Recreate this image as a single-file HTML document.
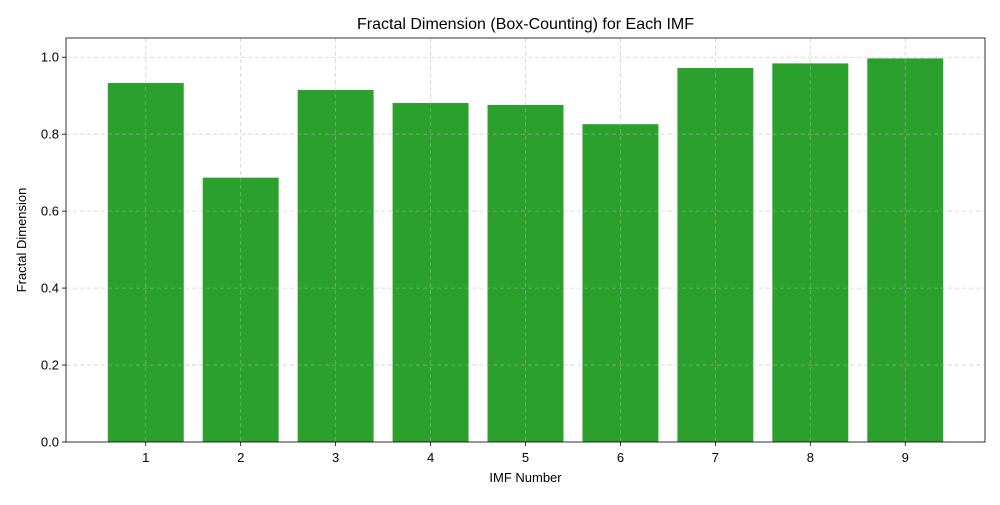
<!DOCTYPE html>
<html><head><meta charset="utf-8"><style>
body{margin:0;background:#fff;}
svg text{font-family:"Liberation Sans","DejaVu Sans",sans-serif;fill:#000;}
</style></head><body>
<svg id="chart" width="1000" height="500">
<rect width="1000" height="500" fill="#fff"/>
<g id="bars"></g><g id="grid"></g><g id="axes"></g>
</svg>
<script>
const categories=[1,2,3,4,5,6,7,8,9];
const values=[0.933,0.687,0.915,0.881,0.876,0.826,0.972,0.984,0.997];
const yTicks=[0,0.2,0.4,0.6,0.8,1.0];
const yTickLabels=["0.0","0.2","0.4","0.6","0.8","1.0"];
const L=66,R=985,T=38,B=442;
const xmin=0.16,xmax=9.84,ymin=0,ymax=1.05;
const xs=v=>L+(v-xmin)/(xmax-xmin)*(R-L);
const ys=v=>B-(v-ymin)/(ymax-ymin)*(B-T);
const NS="http://www.w3.org/2000/svg";
function mk(tag,attrs,parent){const e=document.createElementNS(NS,tag);for(const k in attrs)e.setAttribute(k,attrs[k]);parent.appendChild(e);return e;}
const gb=document.getElementById('bars'),gg=document.getElementById('grid'),ga=document.getElementById('axes');
categories.forEach((c,i)=>{
  const x0=xs(c-0.4),x1=xs(c+0.4);
  const r=mk('rect',{x:x0,y:ys(values[i]),width:x1-x0,height:ys(0)-ys(values[i]),fill:'#2ca02c'},gb);
  
  
  const gl=mk('line',{x1:xs(c),x2:xs(c),y1:T,y2:B,stroke:'#b0b0b0','stroke-dasharray':'4,3','stroke-opacity':0.6,'stroke-width':0.8},gg);
  
  
  const tk=mk('line',{x1:xs(c),x2:xs(c),y1:B,y2:B+4,stroke:'#000','stroke-width':0.8},ga);
  
  
  const t=mk('text',{x:xs(c),y:B+20,'text-anchor':'middle','font-size':13},ga);
  t.textContent=c;
  
  
});
yTicks.forEach((v,i)=>{
  const gl=mk('line',{x1:L,x2:R,y1:ys(v),y2:ys(v),stroke:'#b0b0b0','stroke-dasharray':'4,3','stroke-opacity':0.6,'stroke-width':0.8},gg);
  
  
  const tk=mk('line',{x1:L-4,x2:L,y1:ys(v),y2:ys(v),stroke:'#000','stroke-width':0.8},ga);
  
  
  const t=mk('text',{x:L-7,y:ys(v)+4.5,'text-anchor':'end','font-size':13},ga);
  t.textContent=yTickLabels[i];
  
  
});
const fr=mk('rect',{x:L,y:T,width:R-L,height:B-T,fill:'none',stroke:'#000','stroke-width':0.8},ga);


const ti=mk('text',{x:(L+R)/2,y:29,'text-anchor':'middle','font-size':16},ga);
ti.textContent='Fractal Dimension (Box-Counting) for Each IMF';


const xl=mk('text',{x:(L+R)/2,y:482,'text-anchor':'middle','font-size':13},ga);
xl.textContent='IMF Number';


const yl=mk('text',{x:26,y:(T+B)/2,'text-anchor':'middle','font-size':13,transform:'rotate(-90 26 '+((T+B)/2)+')'},ga);
yl.textContent='Fractal Dimension';


</script>
</body></html>
